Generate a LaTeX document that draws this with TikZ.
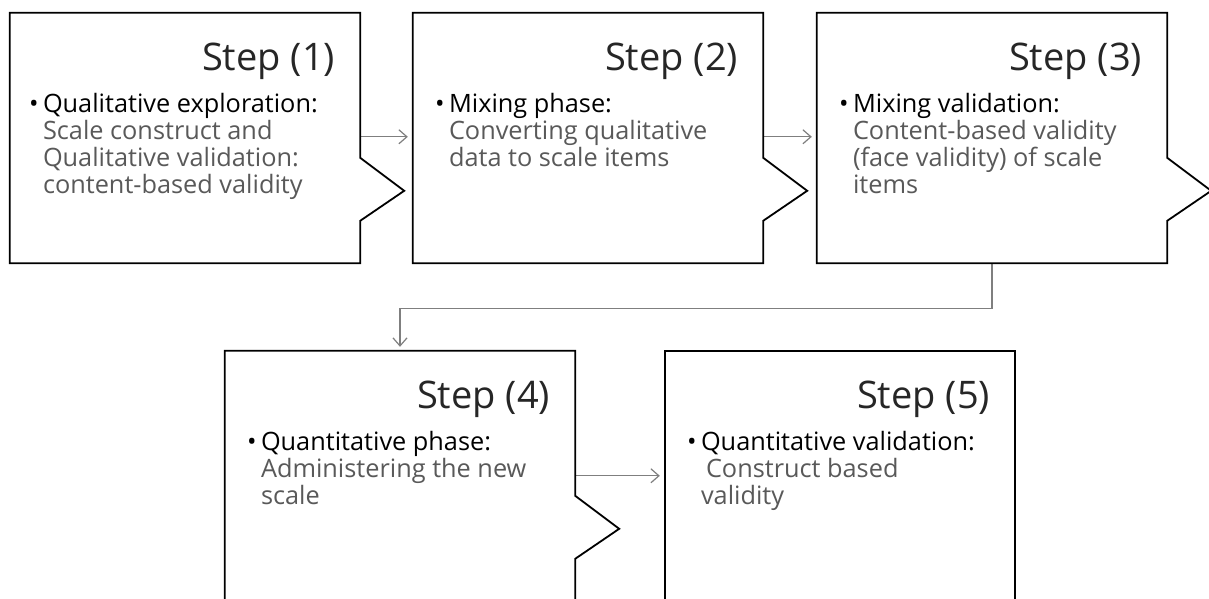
\documentclass[tikz,border=0pt]{standalone}
\usepackage{fontspec}
\setmainfont{Open Sans}
\usetikzlibrary{arrows.meta,calc}
\definecolor{conngrey}{HTML}{7F7F7F}
\definecolor{bodygrey}{HTML}{595959}
\newcommand\bulln[1]{\makebox[14pt][l]{\textcolor{black}{\textbullet}}\textcolor{black}{#1}}
\newcommand\indt{\hspace*{14pt}}
\newcommand\bodytext[1]{\renewcommand\arraystretch{1}\begin{tabular}[t]{@{}l@{}}#1\end{tabular}}
\newcommand\notchoutline[1]{\draw[outline] (#1.north west) -- (#1.north east) -- ([yshift=-145pt]#1.north east) -- ([xshift=44pt,yshift=-178pt]#1.north east) -- ([yshift=-208pt]#1.north east) -- (#1.south east) -- (#1.south west) -- cycle;}
\begin{document}
\begin{tikzpicture}[x=1pt,y=1pt,
  stepbox/.style={minimum width=350pt, minimum height=250pt, inner sep=0pt, draw=none},
  outline/.style={draw=black, line width=1.8pt, line join=miter},
  title/.style={font=\fontsize{38}{40}\selectfont, text=black!85, anchor=base east, inner sep=0pt},
  body/.style={font=\fontsize{25.3}{26}\selectfont, anchor=base west, inner sep=0pt, text=bodygrey},
  conn/.style={draw=conngrey, line width=1.2pt, -{Straight Barb[length=8pt,width=14pt,line width=1.2pt]}}
]
\useasboundingbox (0,0) rectangle (1209,599);
\clip (0,0) rectangle (1209,599);
\fill[white] (0,0) rectangle (1209,599);

\node[stepbox] (b1) at (185,461) {};
\node[stepbox] (b2) at (588,461) {};
\node[stepbox] (b3) at (992,461) {};
\node[stepbox] (b4) at (400,123) {};
\node[stepbox] (b5) at (840,123) {};

\draw[conn] ([yshift=-124pt]b1.north east) -- ([yshift=-124pt,xshift=-5pt]b2.north west);
\draw[conn] ([yshift=-124pt]b2.north east) -- ([yshift=-124pt,xshift=-5pt]b3.north west);
\draw[conn] ([yshift=-125pt]b4.north east) -- ([yshift=-125pt,xshift=-5pt]b5.north west);
\draw[conn] (b3.south) -- ++(0,-45pt) -| ([yshift=4pt]b4.north);

\notchoutline{b1}
\notchoutline{b2}
\notchoutline{b3}
\notchoutline{b4}
\draw[outline] (b5.north west) rectangle (b5.south east);

\node[title] (t1) at ([xshift=-25pt,yshift=-58pt]b1.north east) {Step (1)};
\node[title] (t2) at ([xshift=-25pt,yshift=-58pt]b2.north east) {Step (2)};
\node[title] (t3) at ([xshift=-25pt,yshift=-58pt]b3.north east) {Step (3)};
\node[title] (t4) at ([xshift=-25pt,yshift=-58pt]b4.north east) {Step (4)};
\node[title] (t5) at ([xshift=-25pt,yshift=-58pt]b5.north east) {Step (5)};

\node[body] (x1) at ([xshift=19pt,yshift=-100pt]b1.north west) {\bodytext{\bulln{Qualitative exploration:}\\ \indt Scale construct and\\ \indt Qualitative validation:\\ \indt content-based validity}};
\node[body] (x2) at ([xshift=22pt,yshift=-100pt]b2.north west) {\bodytext{\bulln{Mixing phase:}\\ \indt Converting qualitative\\ \indt data to scale items}};
\node[body] (x3) at ([xshift=22pt,yshift=-100pt]b3.north west) {\bodytext{\bulln{Mixing validation:}\\ \indt Content-based validity\\ \indt (face validity) of scale\\ \indt items}};
\node[body] (x4) at ([xshift=22pt,yshift=-100pt]b4.north west) {\bodytext{\bulln{Quantitative phase:}\\ \indt Administering the new\\ \indt scale}};
\node[body] (x5) at ([xshift=22pt,yshift=-100pt]b5.north west) {\bodytext{\bulln{Quantitative validation:}\\ \indt\hspace*{5pt}Construct based\\ \indt validity}};
\end{tikzpicture}
\end{document}
